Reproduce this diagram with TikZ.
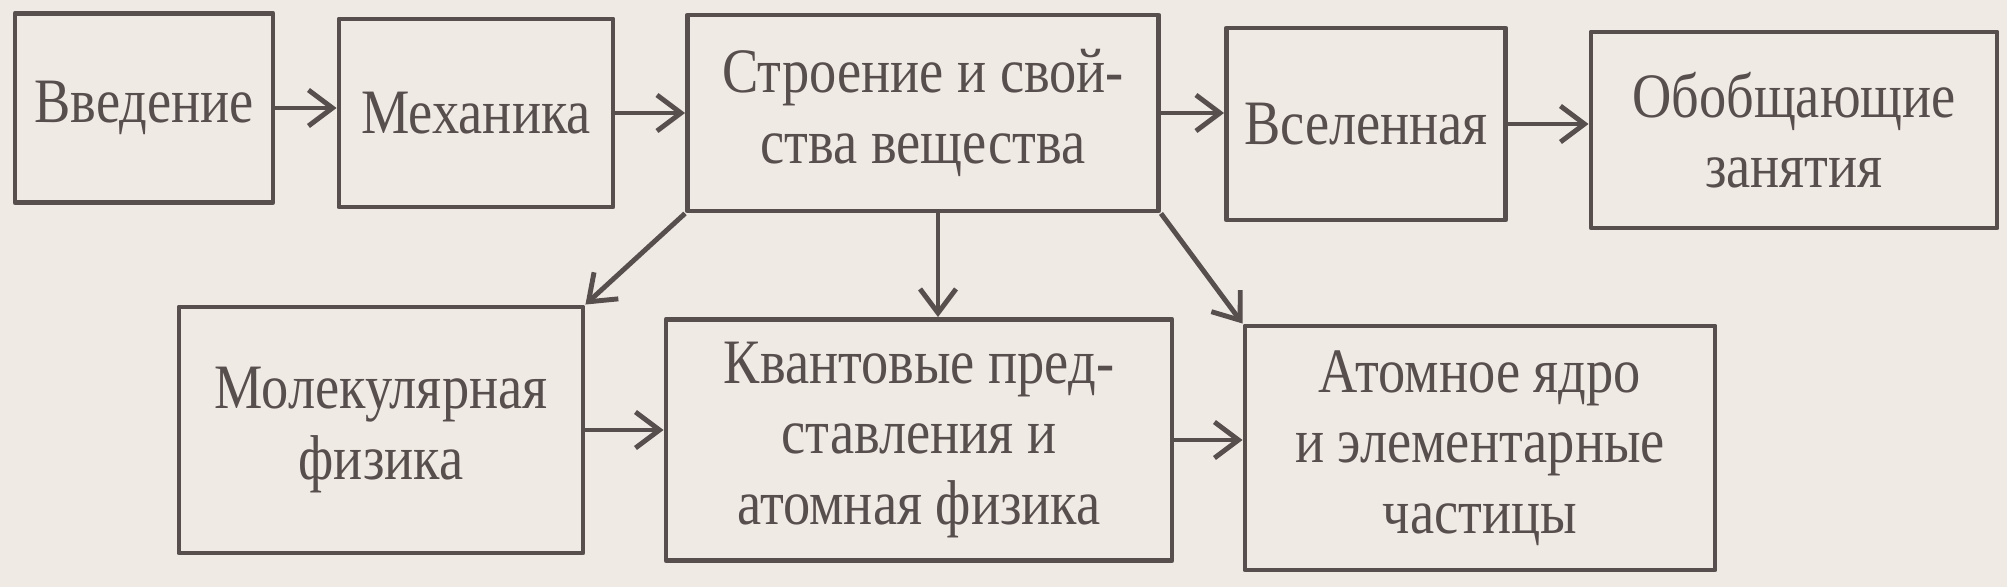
\documentclass[tikz,border=0pt]{standalone}
\usepackage{fontspec}
\setmainfont{Liberation Serif}[FakeStretch=0.86]
\usepackage{xcolor}
\usetikzlibrary{arrows.meta,positioning}
\definecolor{paperbg}{HTML}{F0EAE4}
\definecolor{ink}{HTML}{574E4E}
\tikzset{
  scheme diagram/.style={
    font=\fontsize{18}{20}\selectfont,
    text=ink,
    >={Straight Barb[length=2.4mm,width=3.6mm]},
    line join=round
  },
  topicbox/.style={
    draw=ink,
    line width=1.4pt,
    align=center,
    inner sep=4pt
  },
  flowarrow/.style={
    ->,
    draw=ink,
    line width=1.4pt
  }
}

\begin{document}
\begin{tikzpicture}[scheme diagram]
\fill[paperbg] (0,0) rectangle (20.07,-5.87);
\useasboundingbox (0,0) rectangle (20.07,-5.87);

\node[topicbox, minimum width=2.58cm, minimum height=1.89cm] (intro) at (1.44,-1.08) {Введение};
\node[topicbox, minimum width=2.74cm, minimum height=1.88cm] (mech) at (4.76,-1.13) {Механика};
\node[topicbox, minimum width=4.71cm, minimum height=1.96cm] (struct) at (9.23,-1.13) {Строение и свой-\\ства вещества};
\node[topicbox, minimum width=2.79cm, minimum height=1.92cm] (univ) at (13.66,-1.24) {Вселенная};
\node[topicbox, minimum width=4.06cm, minimum height=1.96cm] (summ) at (17.94,-1.30) {Обобщающие\\занятия};

\node[topicbox, minimum width=4.04cm, minimum height=2.46cm] (molec) at (3.81,-4.30) {Молекулярная\\физика};
\node[topicbox, minimum width=5.06cm, minimum height=2.41cm] (quant) at (9.19,-4.40) {Квантовые пред-\\ставления и\\атомная физика};
\node[topicbox, minimum width=4.70cm, minimum height=2.44cm] (nucl) at (14.80,-4.48) {Атомное ядро\\и элементарные\\частицы};

\draw[flowarrow] (intro.east) -- (mech.west |- intro.east);
\draw[flowarrow] (mech.east) -- (struct.west |- mech.east);
\draw[flowarrow] (struct.east) -- (univ.west |- struct.east);
\draw[flowarrow] (univ.east) -- (summ.west |- univ.east);
\draw[flowarrow] (struct.south west) -- (molec.north east);
\draw[flowarrow] ([xshift=1.5mm]struct.south) -- ([xshift=1.5mm]struct.south |- quant.north);
\draw[flowarrow] (struct.south east) -- (nucl.north west);
\draw[flowarrow] (molec.east) -- (quant.west |- molec.east);
\draw[flowarrow] (quant.east) -- (nucl.west |- quant.east);
\end{tikzpicture}
\end{document}
